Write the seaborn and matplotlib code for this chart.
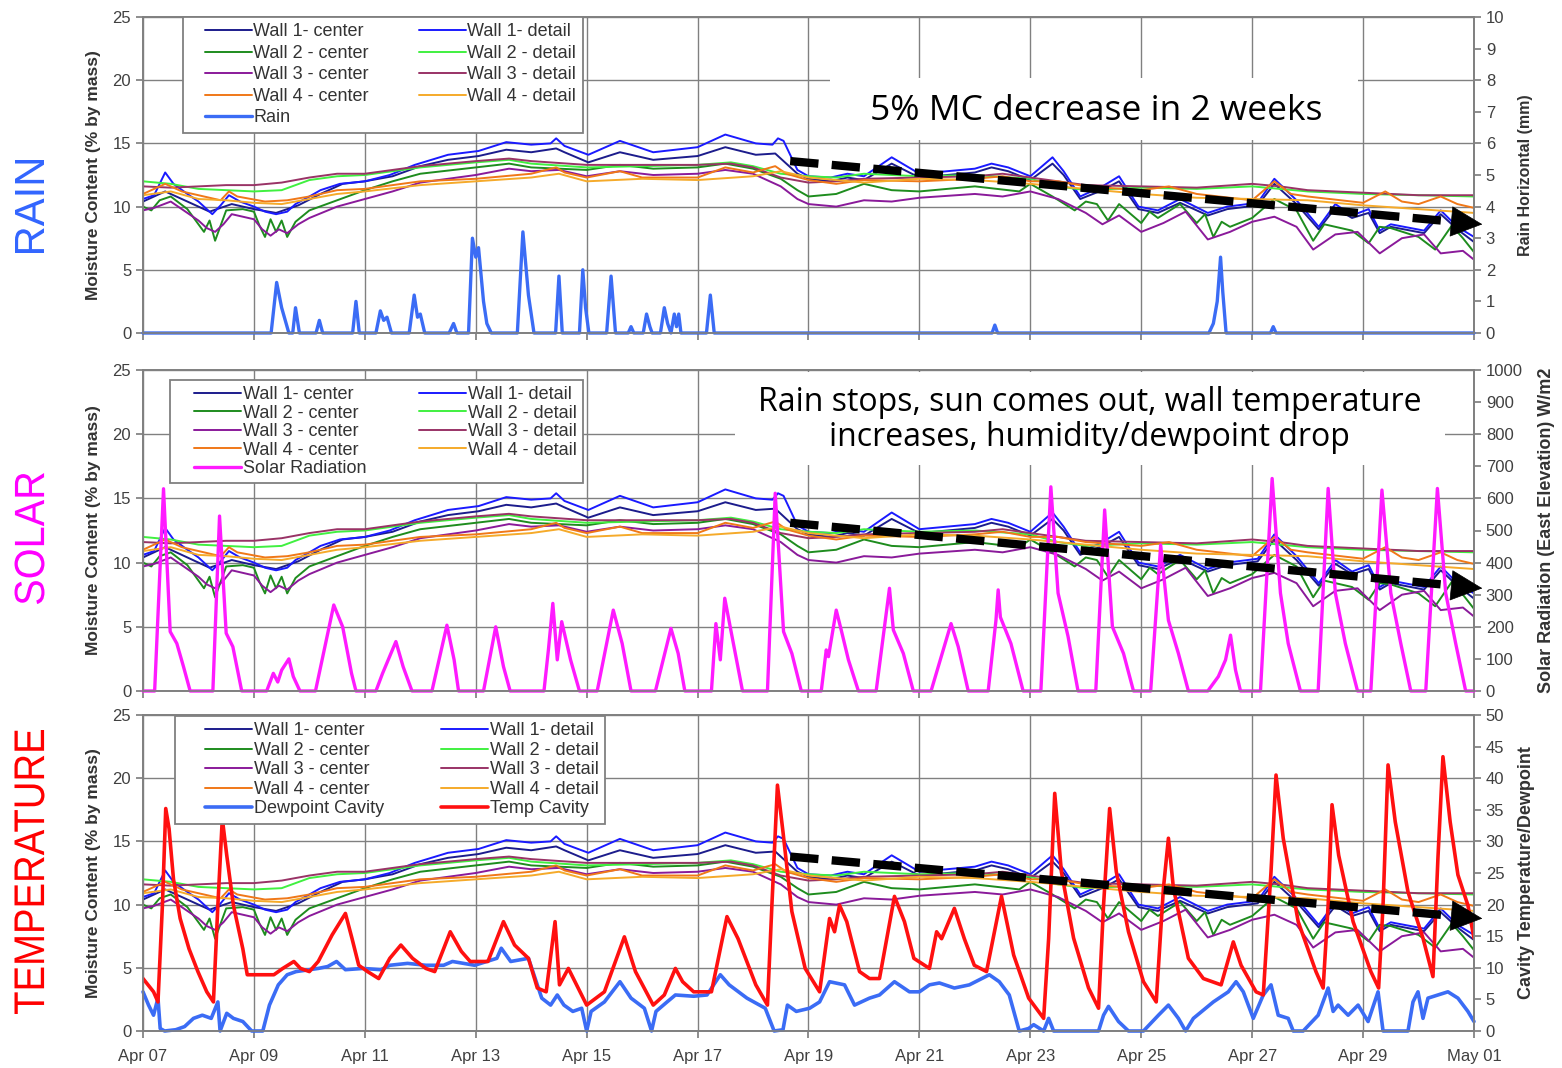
import numpy as np
import pandas as pd
import matplotlib
matplotlib.use("Agg")
import matplotlib.pyplot as plt
import matplotlib.dates as mdates
from matplotlib.textpath import TextPath
from matplotlib.patches import PathPatch, Rectangle
from matplotlib.font_manager import FontProperties
from matplotlib.transforms import Affine2D
from matplotlib.lines import Line2D
from matplotlib.legend_handler import HandlerLine2D
import seaborn as sns

# --- data: (days since Apr 07 00:00, value) ---
wall1_center = [(0, 10.4), (0.4, 11.2), (0.8, 10.4), (1.2, 9.6), (1.6, 10.2), (2.0, 9.8), (2.4, 9.5), (2.8, 10.1),
                (3.2, 11.0), (3.6, 11.8), (4.0, 12.0), (4.5, 12.4), (5.0, 13.2), (5.5, 13.7), (6.05, 14.0), (6.55, 14.5),
                (7.0, 14.3), (7.45, 14.6), (7.6, 14.3), (8.03, 13.5), (8.6, 14.3), (9.2, 13.7), (10.0, 14.0), (10.5, 14.7),
                (11.05, 14.1), (11.4, 14.2), (11.6, 13.4), (11.8, 12.6), (12.0, 12.2), (12.4, 12.0), (12.7, 12.3),
                (13.0, 12.1), (13.5, 13.4), (14.0, 12.3), (14.5, 12.5), (15.0, 12.7), (15.3, 13.1), (15.6, 12.8),
                (16.0, 12.1), (16.4, 13.4), (16.6, 12.5), (16.9, 10.6), (17.3, 11.3), (17.6, 12.0), (17.95, 9.8),
                (18.3, 9.5), (18.7, 10.3), (19.2, 9.3), (19.55, 9.8), (20.1, 10.1), (20.4, 11.8), (20.8, 10.2),
                (21.2, 8.2), (21.5, 9.9), (21.8, 9.1), (22.1, 9.5), (22.3, 7.9), (22.5, 8.4), (23.1, 7.9), (23.4, 9.4),
                (23.7, 8.2), (24.0, 7.2)]
wall1_detail = [(0, 10.6), (0.2, 10.9), (0.4, 12.7), (0.55, 11.8), (0.8, 11.0), (1.0, 10.4), (1.15, 9.8), (1.25, 9.4),
                (1.4, 10.1), (1.55, 10.9), (1.75, 10.4), (2.0, 10.0), (2.2, 9.6), (2.4, 9.4), (2.6, 9.6), (2.75, 10.2),
                (3.0, 10.8), (3.2, 11.3), (3.55, 11.8), (4.0, 12.0), (4.45, 12.5), (4.9, 13.3), (5.5, 14.1), (6.05, 14.4),
                (6.55, 15.1), (7.0, 14.9), (7.35, 15.0), (7.45, 15.4), (7.6, 14.8), (8.03, 14.1), (8.6, 15.2), (9.2, 14.3),
                (10.0, 14.7), (10.5, 15.7), (11.05, 15.0), (11.35, 14.9), (11.45, 15.4), (11.55, 15.2), (11.8, 12.9),
                (12.0, 12.4), (12.4, 12.3), (12.7, 12.6), (13.0, 12.4), (13.5, 13.9), (14.0, 12.6), (14.5, 12.8),
                (15.0, 13.0), (15.3, 13.4), (15.6, 13.1), (16.0, 12.4), (16.4, 13.9), (16.6, 12.8), (16.9, 10.8),
                (17.3, 11.6), (17.6, 12.4), (17.95, 10.0), (18.3, 9.7), (18.7, 10.6), (19.2, 9.5), (19.55, 10.0),
                (20.1, 10.3), (20.4, 12.2), (20.8, 10.5), (21.2, 8.4), (21.5, 10.2), (21.8, 9.3), (22.1, 9.8),
                (22.3, 8.1), (22.5, 8.6), (23.1, 8.1), (23.4, 9.7), (23.7, 8.4), (24.0, 7.6)]
wall2_center = [(0, 10.0), (0.15, 9.7), (0.3, 10.5), (0.5, 10.8), (0.8, 9.8), (1.0, 8.6), (1.1, 8.0), (1.2, 8.9),
                (1.3, 7.3), (1.4, 8.5), (1.5, 9.7), (1.8, 9.8), (2.0, 9.6), (2.1, 8.5), (2.2, 7.6), (2.3, 9.0), (2.4, 8.0),
                (2.5, 8.9), (2.6, 7.6), (2.75, 8.8), (3.0, 9.7), (3.5, 10.5), (4.0, 11.3), (4.5, 12.0), (5.0, 12.6),
                (6.0, 13.1), (6.6, 13.4), (7.0, 13.1), (7.5, 13.0), (8.0, 12.9), (8.6, 13.3), (9.2, 13.0), (10.0, 13.1),
                (10.5, 13.4), (11.0, 13.0), (11.5, 12.2), (11.8, 11.3), (12.0, 10.8), (12.5, 11.0), (13.0, 11.8),
                (13.5, 11.3), (14.0, 11.2), (15.0, 11.6), (15.8, 11.2), (16.0, 11.8), (16.4, 10.8), (16.8, 9.7),
                (17.0, 10.4), (17.2, 10.2), (17.4, 8.9), (17.6, 10.2), (18.0, 8.7), (18.15, 9.6), (18.3, 9.1),
                (18.7, 10.2), (19.0, 8.7), (19.15, 9.4), (19.3, 7.6), (19.45, 8.8), (19.6, 8.4), (20.0, 9.1),
                (20.4, 10.6), (20.8, 9.7), (21.1, 7.3), (21.3, 8.6), (21.5, 8.4), (21.8, 8.1), (22.1, 7.1), (22.3, 8.4),
                (22.5, 8.3), (23.0, 7.6), (23.3, 6.6), (23.6, 8.5), (23.8, 7.5), (24.0, 6.4)]
wall2_detail = [(0, 12.0), (0.5, 11.8), (1.0, 11.4), (1.5, 11.3), (2.0, 11.2), (2.5, 11.3), (3.0, 12.1), (3.5, 12.4),
                (4.0, 12.5), (5.0, 13.1), (6.0, 13.5), (6.6, 13.7), (7.0, 13.4), (8.0, 13.1), (9.0, 13.2), (10.0, 13.3),
                (10.6, 13.5), (11.0, 13.2), (11.5, 12.6), (12.0, 12.4), (12.5, 12.3), (13.0, 12.6), (14.0, 12.4),
                (15.0, 12.5), (16.0, 12.2), (16.5, 11.6), (17.0, 11.3), (18.0, 11.5), (19.0, 11.4), (20.0, 11.6),
                (20.5, 11.4), (21.0, 11.2), (22.0, 11.0), (23.0, 10.9), (24.0, 10.8)]
wall3_center = [(0, 9.7), (0.2, 9.9), (0.5, 10.4), (0.8, 9.5), (1.0, 8.9), (1.15, 8.3), (1.3, 8.0), (1.45, 8.6),
                (1.6, 9.4), (2.0, 9.0), (2.15, 8.2), (2.3, 7.7), (2.45, 8.2), (2.6, 7.9), (2.8, 8.6), (3.0, 9.1),
                (3.5, 10.0), (4.0, 10.6), (4.5, 11.2), (5.0, 11.9), (6.0, 12.5), (6.6, 13.0), (7.0, 12.8), (7.5, 12.9),
                (8.0, 12.4), (8.6, 12.8), (9.2, 12.5), (10.0, 12.6), (10.5, 12.9), (11.0, 12.6), (11.5, 11.6),
                (11.8, 10.6), (12.0, 10.2), (12.5, 10.0), (13.0, 10.5), (13.5, 10.4), (14.0, 10.7), (15.0, 11.0),
                (15.5, 10.8), (16.0, 11.2), (16.5, 10.6), (17.0, 9.5), (17.3, 8.6), (17.6, 9.3), (18.0, 8.0), (18.4, 8.7),
                (18.8, 9.6), (19.2, 7.4), (19.6, 8.0), (20.0, 8.8), (20.4, 9.2), (20.8, 8.4), (21.1, 6.6), (21.5, 7.8),
                (21.9, 8.0), (22.3, 6.3), (22.7, 7.5), (23.1, 7.8), (23.4, 6.3), (23.8, 6.5), (24.0, 5.8)]
wall3_detail = [(0, 11.6), (0.5, 11.5), (1.0, 11.6), (1.5, 11.7), (2.0, 11.7), (2.5, 11.9), (3.0, 12.3), (3.5, 12.6),
                (4.0, 12.6), (5.0, 13.2), (6.0, 13.6), (6.6, 13.8), (7.0, 13.6), (8.0, 13.3), (9.0, 13.3), (10.0, 13.3),
                (10.6, 13.4), (11.0, 13.1), (11.5, 12.3), (12.0, 11.9), (12.5, 12.0), (13.0, 12.2), (14.0, 12.3),
                (15.0, 12.4), (15.5, 12.6), (16.0, 12.3), (17.0, 11.7), (18.0, 11.6), (19.0, 11.5), (20.0, 11.8),
                (20.5, 11.6), (21.0, 11.3), (22.0, 11.1), (23.0, 10.9), (24.0, 10.9)]
wall4_center = [(0, 11.0), (0.4, 11.8), (0.7, 11.2), (1.0, 10.9), (1.4, 10.5), (1.55, 11.2), (1.7, 10.8), (2.2, 10.4),
                (2.6, 10.5), (3.0, 10.8), (3.5, 11.3), (4.0, 11.4), (5.0, 12.0), (6.0, 12.2), (7.0, 12.6), (7.45, 13.1),
                (7.6, 12.7), (8.0, 12.3), (8.6, 12.8), (9.0, 12.3), (10.0, 12.3), (10.5, 13.1), (11.0, 12.7),
                (11.4, 13.2), (11.6, 12.6), (12.0, 12.1), (12.5, 11.8), (13.0, 12.1), (14.0, 12.0), (15.0, 12.2),
                (15.5, 12.4), (16.0, 12.0), (16.5, 12.0), (17.0, 11.6), (18.0, 11.3), (18.5, 11.6), (19.0, 11.0),
                (20.0, 10.5), (20.4, 12.0), (20.7, 11.0), (21.0, 10.8), (22.0, 10.3), (22.4, 11.2), (22.7, 10.4),
                (23.0, 10.2), (23.4, 10.8), (23.7, 10.2), (24.0, 9.9)]
wall4_detail = [(0, 10.9), (0.5, 11.2), (1.0, 10.6), (1.5, 10.5), (2.0, 10.3), (2.5, 10.2), (3.0, 10.6), (3.5, 11.0),
                (4.0, 11.2), (5.0, 11.7), (6.0, 12.0), (7.0, 12.3), (7.5, 12.6), (8.0, 12.0), (9.0, 12.2), (10.0, 12.1),
                (11.0, 12.4), (11.5, 12.8), (12.0, 12.3), (13.0, 11.9), (14.0, 12.2), (15.0, 12.1), (16.0, 11.8),
                (17.0, 11.4), (18.0, 11.0), (19.0, 10.7), (20.0, 10.6), (21.0, 10.5), (22.0, 10.1), (23.0, 9.8),
                (24.0, 9.5)]

rain_mm = [(0, 0), (2.31, 0), (2.41, 1.6), (2.5, 0.8), (2.63, 0), (2.7, 0), (2.75, 0.8), (2.82, 0), (3.12, 0),
           (3.18, 0.4), (3.24, 0), (3.78, 0), (3.84, 1.0), (3.9, 0), (4.2, 0), (4.28, 0.7), (4.34, 0.4), (4.4, 0.5),
           (4.48, 0), (4.8, 0), (4.89, 1.2), (4.95, 0.5), (5.0, 0.6), (5.08, 0), (5.52, 0), (5.6, 0.3), (5.66, 0),
           (5.87, 0), (5.94, 3.0), (6.0, 2.4), (6.05, 2.7), (6.14, 1.0), (6.2, 0.3), (6.28, 0), (6.75, 0), (6.85, 3.2),
           (6.95, 1.2), (7.05, 0), (7.44, 0), (7.5, 1.8), (7.56, 0), (7.87, 0), (7.93, 2.0), (7.98, 0.8), (8.04, 0),
           (8.36, 0), (8.44, 1.8), (8.52, 0), (8.75, 0), (8.8, 0.2), (8.85, 0), (9.02, 0), (9.08, 0.6), (9.14, 0.2),
           (9.18, 0), (9.33, 0), (9.4, 0.8), (9.46, 0.3), (9.52, 0), (9.58, 0.6), (9.62, 0.2), (9.66, 0.6), (9.7, 0),
           (10.16, 0), (10.23, 1.2), (10.3, 0), (15.31, 0), (15.36, 0.25), (15.41, 0), (19.22, 0), (19.3, 0.3),
           (19.37, 1.0), (19.43, 2.4), (19.47, 1.3), (19.53, 0), (20.33, 0), (20.38, 0.2), (20.43, 0), (24, 0)]

solar_wm2 = [(0, 0), (0.21, 0), (0.37, 630), (0.49, 185), (0.61, 148), (0.73, 76), (0.85, 0),
             (1.26, 0), (1.38, 545), (1.5, 180), (1.62, 138), (1.78, 0),
             (2.23, 0), (2.35, 55), (2.43, 28), (2.5, 65), (2.63, 100), (2.71, 45), (2.83, 0),
             (3.11, 0), (3.44, 268), (3.6, 200), (3.76, 55), (3.84, 0),
             (4.2, 0), (4.32, 55), (4.56, 154), (4.69, 76), (4.85, 0),
             (5.21, 0), (5.48, 205), (5.61, 97), (5.69, 0),
             (6.14, 0), (6.36, 200), (6.5, 76), (6.62, 0),
             (7.23, 0), (7.31, 128), (7.39, 273), (7.47, 97), (7.55, 216), (7.71, 97), (7.87, 0),
             (8.19, 0), (8.48, 252), (8.64, 148), (8.8, 0),
             (9.24, 0), (9.52, 195), (9.65, 117), (9.77, 0),
             (10.25, 0), (10.33, 210), (10.41, 97), (10.49, 289), (10.61, 180), (10.81, 0),
             (11.26, 0), (11.4, 616), (11.55, 185), (11.7, 117), (11.87, 0),
             (12.23, 0), (12.32, 128), (12.36, 107), (12.5, 252), (12.59, 190), (12.72, 97), (12.9, 0),
             (13.22, 0), (13.46, 320), (13.53, 190), (13.71, 117), (13.89, 0),
             (14.21, 0), (14.57, 210), (14.7, 138), (14.88, 0),
             (15.24, 0), (15.38, 220), (15.42, 315), (15.46, 230), (15.65, 148), (15.87, 0),
             (16.19, 0), (16.37, 636), (16.5, 305), (16.68, 170), (16.86, 0),
             (17.18, 0), (17.34, 564), (17.48, 200), (17.68, 117), (17.86, 0),
             (18.17, 0), (18.35, 455), (18.49, 220), (18.67, 117), (18.85, 0),
             (19.2, 0), (19.39, 45), (19.52, 97), (19.61, 174), (19.7, 65), (19.79, 0),
             (20.15, 0), (20.36, 662), (20.51, 305), (20.65, 148), (20.87, 0),
             (21.19, 0), (21.37, 631), (21.5, 305), (21.68, 148), (21.9, 0),
             (22.14, 0), (22.34, 626), (22.5, 305), (22.68, 148), (22.86, 0),
             (23.13, 0), (23.34, 631), (23.49, 305), (23.67, 148), (23.85, 0), (24, 0)]

temp_cavity = [(0, 8.3), (0.19, 6.2), (0.27, 4.6), (0.35, 19.9), (0.41, 35.2), (0.47, 32), (0.55, 24), (0.67, 17.8),
               (0.83, 13), (0.99, 9.4), (1.15, 6.2), (1.27, 4.6), (1.35, 19.9), (1.43, 33.6), (1.51, 27.8), (1.63, 19.9),
               (1.8, 13), (1.88, 8.9), (2.04, 8.9), (2.36, 8.9), (2.52, 9.9), (2.72, 11), (2.84, 9.9), (3.0, 9.4),
               (3.16, 11), (3.41, 15.2), (3.65, 18.6), (3.77, 14.6), (3.89, 10.4), (4.05, 9.4), (4.25, 8.3),
               (4.45, 11.5), (4.65, 13.6), (4.86, 11.5), (5.1, 9.9), (5.26, 9.4), (5.54, 15.7), (5.74, 12.6), (5.9, 11),
               (6.22, 11), (6.5, 17.3), (6.7, 13.6), (6.95, 11.5), (7.11, 6.8), (7.27, 6.2), (7.43, 17.3), (7.51, 7.3),
               (7.67, 9.9), (7.79, 7.8), (8.0, 4.1), (8.32, 6.2), (8.68, 14.9), (8.88, 9.4), (9.2, 4.1), (9.4, 5.7),
               (9.6, 9.9), (9.73, 7.8), (9.93, 6.2), (10.25, 6.2), (10.53, 18.1), (10.73, 14.6), (11.05, 7.3),
               (11.26, 4.1), (11.34, 19.9), (11.44, 38.9), (11.54, 31.5), (11.7, 18.9), (11.94, 9.9), (12.2, 6.2),
               (12.38, 17.8), (12.47, 15.7), (12.56, 19.9), (12.69, 17.3), (12.92, 9.4), (13.1, 8.3), (13.28, 8.3),
               (13.55, 21.3), (13.73, 17.3), (13.9, 11.5), (14.18, 9.9), (14.31, 15.7), (14.4, 14.6), (14.63, 19.4),
               (14.81, 14.6), (14.99, 10.4), (15.21, 9.4), (15.48, 21.3), (15.7, 12), (15.97, 5.2), (16.24, 2.0),
               (16.33, 14.6), (16.44, 37.6), (16.56, 25.2), (16.78, 14.7), (17.05, 6.8), (17.23, 3.6), (17.32, 19.9),
               (17.43, 35.2), (17.55, 25.2), (17.77, 15.7), (18.04, 7.8), (18.27, 4.6), (18.4, 22.6), (18.49, 30.5),
               (18.58, 22.6), (18.85, 11.5), (19.12, 8.3), (19.44, 7.3), (19.66, 14.1), (19.8, 10.4), (20.07, 6.2),
               (20.2, 5.7), (20.34, 25.2), (20.43, 40.5), (20.56, 30.5), (20.83, 17.3), (21.15, 9.4), (21.28, 6.8),
               (21.37, 19.9), (21.44, 35.8), (21.56, 27.8), (21.82, 17.3), (22.14, 9.4), (22.28, 6.8), (22.36, 19.9),
               (22.45, 42.1), (22.58, 33.1), (22.81, 22), (23.08, 14.7), (23.26, 8.6), (23.35, 27.4), (23.44, 43.4),
               (23.57, 33.1), (23.71, 24.7), (23.89, 19.9), (24.0, 14.7)]

dewpoint_cavity = [(0, 6.2), (0.1, 4.1), (0.19, 2.5), (0.27, 5.2), (0.31, 0.4), (0.39, 0), (0.59, 0.2), (0.75, 0.7),
                   (0.91, 2.0), (1.07, 2.5), (1.23, 2.0), (1.35, 4.6), (1.39, 0), (1.51, 2.8), (1.63, 2.0), (1.8, 1.5),
                   (1.96, 0), (2.16, 0), (2.28, 4.1), (2.44, 7.3), (2.6, 8.9), (2.76, 9.4), (3.16, 9.9), (3.33, 10.2),
                   (3.49, 11), (3.65, 9.7), (3.97, 9.9), (4.29, 9.7), (4.45, 10.4), (4.77, 10.7), (5.1, 10.4),
                   (5.42, 10.4), (5.58, 11), (5.98, 10.4), (6.38, 11.5), (6.46, 13.1), (6.63, 11), (6.95, 11.5),
                   (7.03, 9.4), (7.19, 5.2), (7.35, 4.1), (7.47, 5.7), (7.59, 4.1), (7.75, 3.1), (7.91, 3.6), (8.0, 0),
                   (8.08, 3.1), (8.32, 4.6), (8.6, 7.8), (8.8, 5.2), (9.04, 3.6), (9.17, 0), (9.25, 3.1), (9.45, 4.6),
                   (9.6, 5.7), (9.93, 5.5), (10.17, 5.7), (10.41, 8.9), (10.57, 7.3), (10.89, 5.2), (11.22, 3.6),
                   (11.38, 0), (11.54, 0.2), (11.62, 4.1), (11.78, 3.1), (12.02, 3.6), (12.2, 4.6), (12.38, 7.8),
                   (12.65, 7.3), (12.83, 4.1), (13.1, 5.2), (13.28, 5.7), (13.55, 7.8), (13.82, 6.2), (14.0, 6.2),
                   (14.18, 7.3), (14.36, 7.6), (14.63, 6.8), (14.9, 7.3), (15.26, 8.9), (15.44, 7.8), (15.62, 5.7),
                   (15.8, 0), (15.97, 0.4), (16.06, 1.0), (16.24, 0), (16.33, 2.0), (16.42, 0), (17.23, 0), (17.32, 2.5),
                   (17.41, 3.9), (17.59, 1.5), (17.77, 0), (18.04, 0), (18.31, 2.5), (18.49, 4.1), (18.67, 2.0),
                   (18.8, 0), (18.94, 2.0), (19.12, 3.3), (19.3, 4.6), (19.57, 6.2), (19.71, 7.8), (19.84, 6.2),
                   (20.02, 2.0), (20.2, 5.7), (20.34, 7.3), (20.47, 2.5), (20.65, 2.0), (20.74, 0), (20.92, 0),
                   (21.19, 2.5), (21.37, 6.8), (21.46, 3.1), (21.55, 4.1), (21.73, 2.5), (21.91, 4.1), (22.09, 1.5),
                   (22.27, 6.2), (22.36, 0), (22.81, 0), (22.9, 4.6), (22.99, 6.2), (23.08, 2.0), (23.17, 5.2),
                   (23.35, 5.7), (23.53, 6.2), (23.71, 5.2), (23.89, 3.1), (24.0, 1.5)]

# trend arrows: (start day, start MC, end day, end MC) per panel
trend_arrows = [(11.67, 13.6, 24.15, 8.6), (11.67, 13.1, 24.15, 8.0), (11.67, 13.8, 24.15, 8.9)]

START = pd.Timestamp("2010-04-07")
tick_dates = pd.date_range(START, periods=13, freq="2D")
T0 = mdates.date2num(START)

# --- style ---
sns.set_theme(style="white")
plt.rcParams["font.family"] = ["Liberation Sans", "DejaVu Sans"]
GRID = "#808080"
TXT = "#404040"
LBL = "#333333"

walls = [("Wall 1- center", wall1_center, "#1c1c8c"), ("Wall 1- detail", wall1_detail, "#1a1aff"),
         ("Wall 2 - center", wall2_center, "#1e8c1e"), ("Wall 2 - detail", wall2_detail, "#40f040"),
         ("Wall 3 - center", wall3_center, "#8a1a9a"), ("Wall 3 - detail", wall3_detail, "#993366"),
         ("Wall 4 - center", wall4_center, "#f07818"), ("Wall 4 - detail", wall4_detail, "#f5aa2a")]


def draw(ax, pts, color, lw, label, clip=True):
    df = pd.DataFrame(pts, columns=["day", "val"])
    df["time"] = START + pd.to_timedelta(df["day"], unit="D")
    sns.lineplot(data=df, x="time", y="val", ax=ax, color=color, linewidth=lw,
                 estimator=None, sort=False, legend=False)
    line = ax.lines[-1]
    line.set_label(label)
    line.set_clip_on(clip)
    return line


W, H = 1562, 1068
x0, x1 = 143, 1474
panels = [(17, 333), (370, 691), (715, 1031)]

fig = plt.figure(figsize=(W / 100, H / 100), dpi=100)

for i, (top, bot) in enumerate(panels):
    ax = fig.add_axes([x0 / W, 1 - bot / H, (x1 - x0) / W, (bot - top) / H])
    handles = {}
    for label, pts, color in walls:
        handles[label] = draw(ax, pts, color, 1.4, label)

    ax.set_xlim(START, START + pd.Timedelta(days=24))
    ax.set_ylim(0, 25)
    ax.set_yticks(range(0, 26, 5))
    ax.set_xticks(tick_dates)
    ax.xaxis.set_major_formatter(mdates.DateFormatter("%b %d"))
    ax.grid(True, color=GRID, lw=1)
    ax.tick_params(bottom=True, left=True, direction="out", length=5, color=GRID,
                   labelsize=12, labelcolor=TXT)
    ax.tick_params(axis="x", pad=8)
    if i < 2:
        ax.tick_params(labelbottom=False)
    for s in ax.spines.values():
        s.set_color(GRID)
    ax.set_xlabel("")
    ax.set_ylabel("Moisture Content (% by mass)", fontsize=12.5, fontweight="bold", color=LBL)
    ax.yaxis.set_label_coords(-42 / 1331, 0.5)

    ax2 = ax.twinx()
    ax2.grid(False)
    if i == 0:
        extra = [draw(ax2, rain_mm, "#3b6cf5", 2.4, "Rain", clip=False)]
        ax2.set_ylim(0, 10)
        ax2.set_yticks(range(0, 11))
        ax2.set_ylabel("Rain Horizontal (mm)", fontsize=11.5, fontweight="bold", color=LBL)
        ax2.yaxis.set_label_coords(1.033, 0.5)
        order = ["Wall 1- center", "Wall 2 - center", "Wall 3 - center", "Wall 4 - center", "Rain",
                 "Wall 1- detail", "Wall 2 - detail", "Wall 3 - detail", "Wall 4 - detail"]
        leg_anchor = (40 / 1331, 1.0)
        xpad, colsp, lsp = 0.85, 1.9, 0.25
    elif i == 1:
        extra = [draw(ax2, solar_wm2, "#ff1aff", 2.4, "Solar Radiation", clip=False)]
        ax2.set_ylim(0, 1000)
        ax2.set_yticks(range(0, 1001, 100))
        ax2.set_ylabel("Solar Radiation (East Elevation) W/m2", fontsize=13, fontweight="bold", color=LBL)
        ax2.yaxis.set_label_coords(1.048, 0.5)
        order = ["Wall 1- center", "Wall 2 - center", "Wall 3 - center", "Wall 4 - center", "Solar Radiation",
                 "Wall 1- detail", "Wall 2 - detail", "Wall 3 - detail", "Wall 4 - detail"]
        leg_anchor = (27 / 1331, 1 - 10 / 321)
        xpad, colsp, lsp = 1.0, 1.9, 0.08
    else:
        extra = [draw(ax2, dewpoint_cavity, "#3b6cf5", 2.6, "Dewpoint Cavity", clip=False),
                 draw(ax2, temp_cavity, "#ff1010", 2.6, "Temp Cavity")]
        ax2.set_ylim(0, 50)
        ax2.set_yticks(range(0, 51, 5))
        ax2.set_ylabel("Cavity Temperature/Dewpoint", fontsize=13, fontweight="bold", color=LBL)
        ax2.yaxis.set_label_coords(1.033, 0.5)
        order = ["Wall 1- center", "Wall 2 - center", "Wall 3 - center", "Wall 4 - center", "Dewpoint Cavity",
                 "Wall 1- detail", "Wall 2 - detail", "Wall 3 - detail", "Wall 4 - detail", "Temp Cavity"]
        leg_anchor = (32 / 1331, 1 - 1 / 316)
        xpad, colsp, lsp = 1.3, 1.9, 0.14
    for h in extra:
        handles[h.get_label()] = h
    ax2.set_xlim(START, START + pd.Timedelta(days=24))
    ax2.set_xlabel("")
    ax2.tick_params(right=True, direction="out", length=5, color=GRID, labelsize=12, labelcolor=TXT)
    for s in ax2.spines.values():
        s.set_color(GRID)

    leg = ax2.legend([handles[k] for k in order], order, ncol=2, loc="upper left",
                     bbox_to_anchor=leg_anchor, borderaxespad=0, frameon=True, fancybox=False,
                     edgecolor=GRID, framealpha=1, fontsize=13, handlelength=2.6 + xpad,
                     handler_map={Line2D: HandlerLine2D(xpad=xpad)},
                     labelspacing=lsp, columnspacing=colsp, borderpad=0.35, handletextpad=0.1)
    leg.get_frame().set_linewidth(1.3)
    for t in leg.get_texts():
        t.set_color(LBL)

    # dashed trend arrow (drawn in the moisture-content coordinates of the left axis)
    sd, sv, ed, ev = trend_arrows[i]
    stem_end = ed - 0.5
    v1 = sv + (ev - sv) * (stem_end - sd) / (ed - sd)
    ax2.plot([T0 + sd, T0 + stem_end], [sv, v1], transform=ax.transData, color="black", lw=6,
             dashes=(3.4, 1.6), solid_capstyle="butt", zorder=6, clip_on=False)
    ax2.annotate("", xy=(T0 + ed, ev), xytext=(T0 + stem_end, v1),
                 xycoords=ax.transData, textcoords=ax.transData,
                 arrowprops=dict(arrowstyle="-|>,head_length=0.68,head_width=0.33", mutation_scale=32,
                                 color="black", lw=0.5, shrinkA=0, shrinkB=0),
                 zorder=7, annotation_clip=False)

    if i == 0:
        ax2.add_patch(Rectangle((687 / 1331, 193 / 316), 528 / 1331, 62 / 316, transform=ax.transAxes,
                                fc="white", ec="none", zorder=7.5))
        ax2.text(0.716, 0.7025, "5% MC decrease in 2 weeks", transform=ax.transAxes,
                 ha="center", va="center", fontsize=25.5, color="black",
                 family=["Open Sans", "DejaVu Sans"], zorder=8)
    elif i == 1:
        ax2.add_patch(Rectangle((592 / 1331, 226 / 321), 710 / 1331, 93 / 321, transform=ax.transAxes,
                                fc="white", ec="none", zorder=7.5))
        ax2.text(0.711, 0.844, "Rain stops, sun comes out, wall temperature\nincreases, humidity/dewpoint drop",
                 transform=ax.transAxes, ha="center", va="center", fontsize=23, color="black",
                 linespacing=1.05, family=["Open Sans", "DejaVu Sans"], zorder=8)


# big side labels, condensed by squeezing the glyph outlines
def side_label(text, color, cx, cy, length, cap):
    tp = TextPath((0, 0), text, size=1, prop=FontProperties(family="Liberation Sans"))
    ext = tp.get_extents()
    tr = (Affine2D().translate(-(ext.x0 + ext.x1) / 2, -(ext.y0 + ext.y1) / 2)
          .scale(length / ext.width, cap / ext.height).rotate_deg(90)
          .translate(cx, H - cy).scale(1 / 100) + fig.dpi_scale_trans)
    fig.add_artist(PathPatch(tp, transform=tr, fc=color, ec="none"))


side_label("RAIN", "#3366ff", 29.5, 206.5, 93, 29)
side_label("SOLAR", "#ff00ff", 29.5, 538.5, 131, 30)
side_label("TEMPERATURE", "#ff0000", 29.5, 872, 284, 30)

fig.savefig("out.png", dpi=100, facecolor="white")
